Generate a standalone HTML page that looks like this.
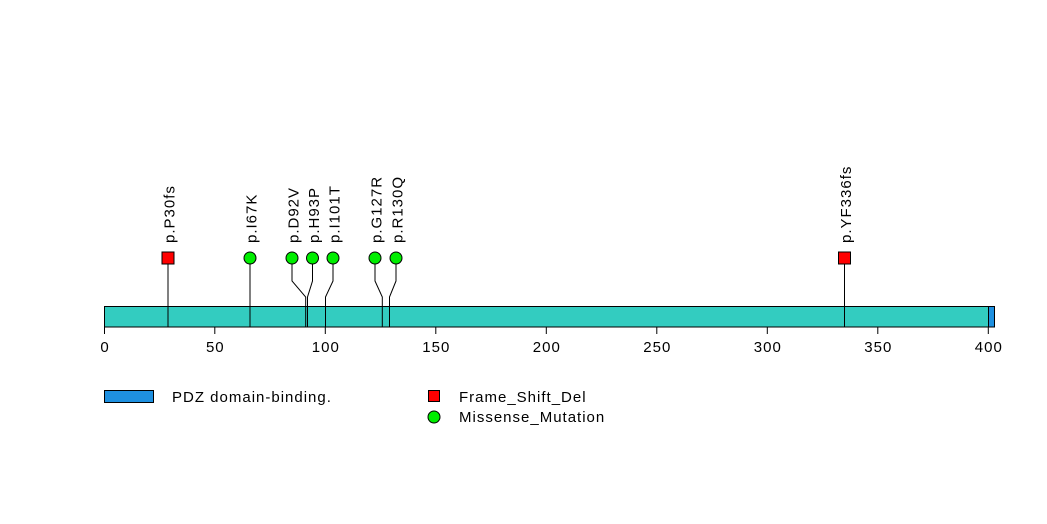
<!DOCTYPE html>
<html><head><style>html,body{margin:0;padding:0;background:#fff}svg{display:block}text{font-family:"Liberation Sans",sans-serif;font-size:15px;letter-spacing:1px;fill:#000}</style></head><body>
<svg width="1047" height="524" xmlns="http://www.w3.org/2000/svg">
<g stroke="#000" stroke-width="1" fill="none">
<polyline points="168,258 168,327"/>
<polyline points="250,258 250,327"/>
<polyline points="292,258 292,281 305.7,297 305.7,327"/>
<polyline points="312.5,258 312.5,281 307.5,297 307.5,327"/>
<polyline points="333,258 333,281 325.5,297 325.5,327"/>
<polyline points="375,258 375,281 382.3,297 382.3,327"/>
<polyline points="396,258 396,281 389.5,297 389.5,327"/>
<polyline points="844.5,258 844.5,327"/>
</g>
<rect x="104.5" y="306.5" width="890" height="20.5" fill="#33CCC0" stroke="#000"/>
<rect x="988.5" y="306.5" width="6" height="20.5" fill="#1E90E0" stroke="#000"/>
<g stroke="#000">
<line x1="168" y1="306" x2="168" y2="327"/><line x1="250" y1="306" x2="250" y2="327"/>
<line x1="305.7" y1="306" x2="305.7" y2="327"/><line x1="307.5" y1="306" x2="307.5" y2="327"/>
<line x1="325.5" y1="306" x2="325.5" y2="327"/><line x1="382.3" y1="306" x2="382.3" y2="327"/>
<line x1="389.5" y1="306" x2="389.5" y2="327"/><line x1="844.5" y1="306" x2="844.5" y2="327"/>
<line x1="104.5" y1="327" x2="104.5" y2="334"/><line x1="214.8" y1="327" x2="214.8" y2="334"/>
<line x1="325.3" y1="327" x2="325.3" y2="334"/><line x1="435.8" y1="327" x2="435.8" y2="334"/>
<line x1="546.3" y1="327" x2="546.3" y2="334"/><line x1="656.8" y1="327" x2="656.8" y2="334"/>
<line x1="767.3" y1="327" x2="767.3" y2="334"/><line x1="877.8" y1="327" x2="877.8" y2="334"/>
<line x1="988.3" y1="327" x2="988.3" y2="334"/>
</g>
<g text-anchor="middle">
<text x="105" y="352">0</text><text x="215.3" y="352">50</text><text x="325.8" y="352">100</text>
<text x="436.3" y="352">150</text><text x="546.8" y="352">200</text><text x="657.3" y="352">250</text>
<text x="767.8" y="352">300</text><text x="878.3" y="352">350</text><text x="988.8" y="352">400</text>
</g>
<g stroke="#000">
<rect x="162" y="252" width="12" height="12" fill="#FF0000"/>
<rect x="838.5" y="252" width="12" height="12" fill="#FF0000"/>
<circle cx="250" cy="258" r="6" fill="#00EE00"/>
<circle cx="292" cy="258" r="6" fill="#00EE00"/>
<circle cx="312.5" cy="258" r="6" fill="#00EE00"/>
<circle cx="333" cy="258" r="6" fill="#00EE00"/>
<circle cx="375" cy="258" r="6" fill="#00EE00"/>
<circle cx="396" cy="258" r="6" fill="#00EE00"/>
</g>
<g>
<text transform="translate(174.5,243) rotate(-90)">p.P30fs</text>
<text transform="translate(256.5,243) rotate(-90)">p.I67K</text>
<text transform="translate(298.5,243) rotate(-90)">p.D92V</text>
<text transform="translate(319,243) rotate(-90)">p.H93P</text>
<text transform="translate(339.5,243) rotate(-90)">p.I101T</text>
<text transform="translate(381.5,243) rotate(-90)">p.G127R</text>
<text transform="translate(402.5,243) rotate(-90)">p.R130Q</text>
<text transform="translate(851,243) rotate(-90)">p.YF336fs</text>
</g>
<rect x="104.5" y="390.5" width="49" height="12" fill="#1E90E0" stroke="#000"/>
<text x="172" y="402">PDZ domain-binding.</text>
<rect x="428.5" y="390.5" width="11" height="11" fill="#FF0000" stroke="#000"/>
<text x="459" y="402">Frame_Shift_Del</text>
<circle cx="434" cy="417" r="6" fill="#00EE00" stroke="#000"/>
<text x="459" y="422">Missense_Mutation</text>
</svg>
</body></html>
